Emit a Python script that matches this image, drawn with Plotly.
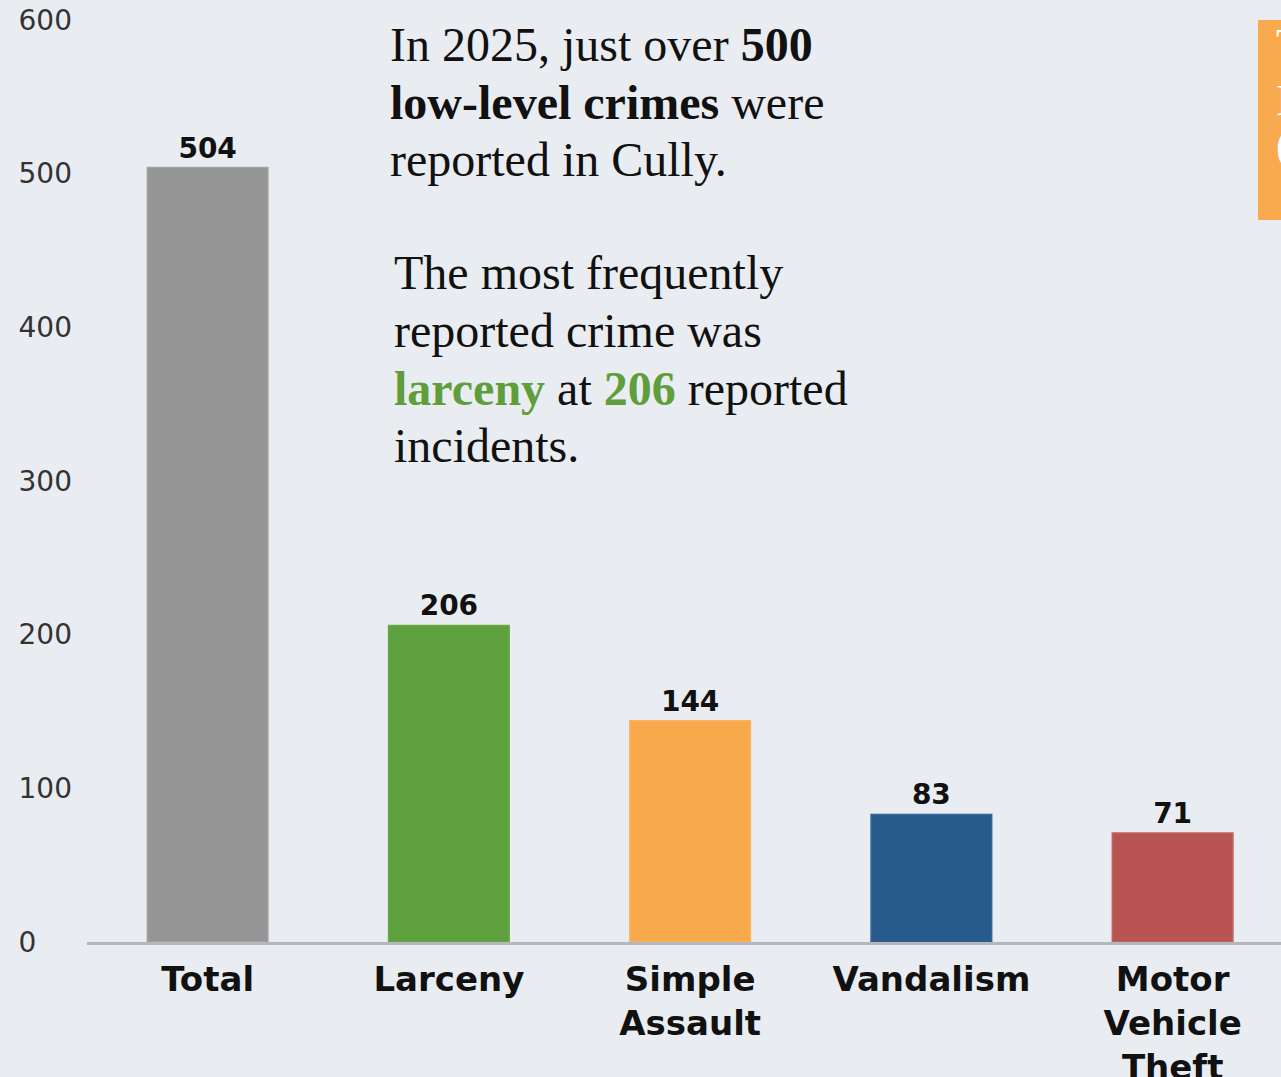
import plotly.graph_objects as go

categories = ["Total", "Larceny", "Simple<br>Assault", "Vandalism", "Motor<br>Vehicle<br>Theft"]
values = [504, 206, 144, 83, 71]
bar_colors = ["#959595", "#5e9f3e", "#f8a94c", "#285a8c", "#b85553"]
line_colors = ["#a3a3a3", "#6aa94a", "#f9b463", "#336699", "#c2625f"]
y_tick_vals = [0, 100, 200, 300, 400, 500, 600]
y_tick_text = ["0\u2007\u2007", "100", "200", "300", "400", "500", "600"]

GREEN = "#5f9e3a"
BG = "#e9edf1"
SANS = "'DejaVu Sans', sans-serif"
SERIF = "'Liberation Serif', 'Times New Roman', serif"

fig = go.Figure()
fig.add_trace(go.Bar(
    x=list(range(len(categories))),
    y=values,
    width=0.5,
    marker=dict(color=bar_colors, line=dict(color=line_colors, width=1.5)),
    text=[str(v) for v in values],
    textposition="outside",
    textfont=dict(family=SANS, size=28, color="#111111", weight="bold"),
    cliponaxis=False,
    hoverinfo="skip",
))

fig.update_layout(
    width=1281, height=1077,
    margin=dict(l=87, r=0, t=20, b=135, autoexpand=False),
    paper_bgcolor=BG, plot_bgcolor=BG,
    showlegend=False,
    xaxis=dict(
        range=[-0.5, -0.5 + 1194 / 241.25],
        tickmode="array",
        tickvals=list(range(len(categories))),
        ticktext=categories,
        tickfont=dict(family=SANS, size=34, color="#111111", weight="bold"),
        showgrid=False, zeroline=False,
        showline=True, linecolor="#b4b8bc", linewidth=3,
        ticks="", ticklabelstandoff=5, automargin=False,
    ),
    yaxis=dict(
        range=[0, 600],
        tickmode="array",
        tickvals=y_tick_vals,
        ticktext=y_tick_text,
        tickfont=dict(family=SANS, size=28, color="#333333"),
        showgrid=False, zeroline=False, showline=False,
        ticks="", ticklabelstandoff=14, automargin=False,
    ),
)

def px_x(px):
    return (px - 87) / 1194

def px_y(py):
    return (942 - py) / 922

GB = f"<b><span style='color:{GREEN}'>%s</span></b>"
para1 = [
    ("In 2025, just over <b>500</b>", 45),
    ("<b>low-level crimes</b> were", 103),
    ("reported in Cully.", 160),
]
para2 = [
    ("The most frequently", 272),
    ("reported crime was", 330),
    (GB % "larceny" + " at " + GB % "206" + " reported", 388),
    ("incidents.", 445),
]
for txt, yc in para1:
    fig.add_annotation(xref="paper", yref="paper", x=px_x(388), y=px_y(yc),
                       xanchor="left", yanchor="middle", align="left", showarrow=False,
                       text=txt, font=dict(family=SERIF, size=48, color="#111111"))
for txt, yc in para2:
    fig.add_annotation(xref="paper", yref="paper", x=px_x(392), y=px_y(yc),
                       xanchor="left", yanchor="middle", align="left", showarrow=False,
                       text=txt, font=dict(family=SERIF, size=48, color="#111111"))

# Orange side box (cut off at right edge)
fig.add_shape(type="rect", xref="paper", yref="paper",
              x0=px_x(1258), x1=px_x(1320),
              y0=px_y(220), y1=px_y(20),
              fillcolor="#f9aa4e", line=dict(width=0), layer="above")
for txt, yc in [("T", 45), ("I", 100), ("(", 145)]:
    fig.add_annotation(xref="paper", yref="paper", x=px_x(1274), y=px_y(yc),
                       xanchor="left", yanchor="middle", showarrow=False,
                       text=txt, font=dict(family=SERIF, size=44, color="#ffffff"))

fig.write_html("out.html", config={"displayModeBar": False},
               post_script="document.body.style.margin='0';")
